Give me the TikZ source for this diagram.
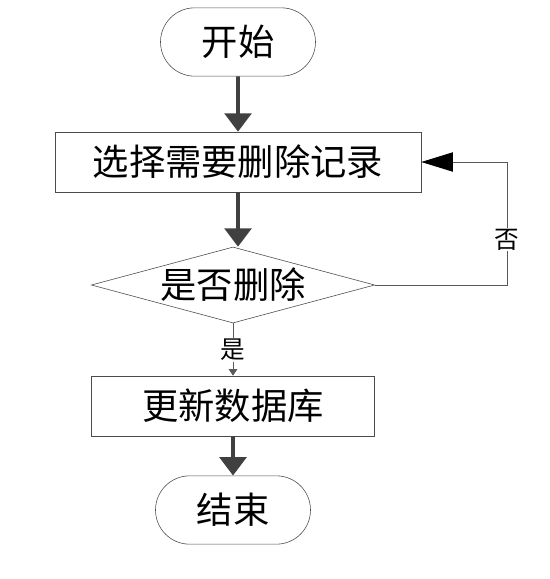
\documentclass[tikz,border=0pt]{standalone}
\usepackage{fontspec}
\newfontfamily\cjk{Noto Sans CJK SC}
\usetikzlibrary{shapes.misc,shapes.geometric,arrows.meta}
\definecolor{flowgray}{HTML}{404040}

\tikzset{
  terminal/.style={rounded rectangle,draw=black!70,line width=0.5pt,minimum width=4.65cm,minimum height=2.05cm,inner sep=0pt,font=\cjk\fontsize{31}{34}\selectfont},
  process/.style={rectangle,draw=black!70,line width=0.5pt,minimum height=1.8cm,inner sep=0pt,font=\cjk\fontsize{31}{34}\selectfont},
  decision/.style={diamond,aspect=3.7,draw=black!70,line width=0.5pt,minimum width=8.5cm,minimum height=2.28cm,inner sep=0pt,font=\cjk\fontsize{31}{34}\selectfont},
  flow/.style={draw=flowgray,line width=3pt,-{Triangle[length=0.55cm,width=0.8cm]}},
  thinflow/.style={draw=black!65,line width=0.8pt},
  lbl/.style={fill=white,inner sep=1pt,font=\cjk\fontsize{21}{23}\selectfont}
}

\begin{document}
\begin{tikzpicture}[x=0.03cm,y=-0.03cm]
    \useasboundingbox (0,0) rectangle (549,579);

    \node[terminal] (start) at (238,42) {开始};
    \node[process,minimum width=10.98cm] (select) at (238,162) {选择需要删除记录};
    \node[decision] (ask) at (233,285) {是否删除};
    \node[process,minimum width=8.5cm] (update) at (233,406) {更新数据库};
    \node[terminal] (finish) at (233,510) {结束};
    \coordinate (turn) at (507,285);

    \draw[flow] (start) -- (select);
    \draw[flow] (select) -- (select |- ask.north);
    \draw[flow] (update) -- (finish);

    \draw[thinflow,-{Triangle[length=0.95cm,width=0.58cm,black]}] (ask.east) -- (turn) -- node[lbl,pos=0.37] {否} (turn |- select.east) -- (select.east);
    \draw[thinflow,-{Triangle[length=0.2cm,width=0.26cm]}] (ask.south) -- node[lbl] {是} (update.north);
\end{tikzpicture}
\end{document}
